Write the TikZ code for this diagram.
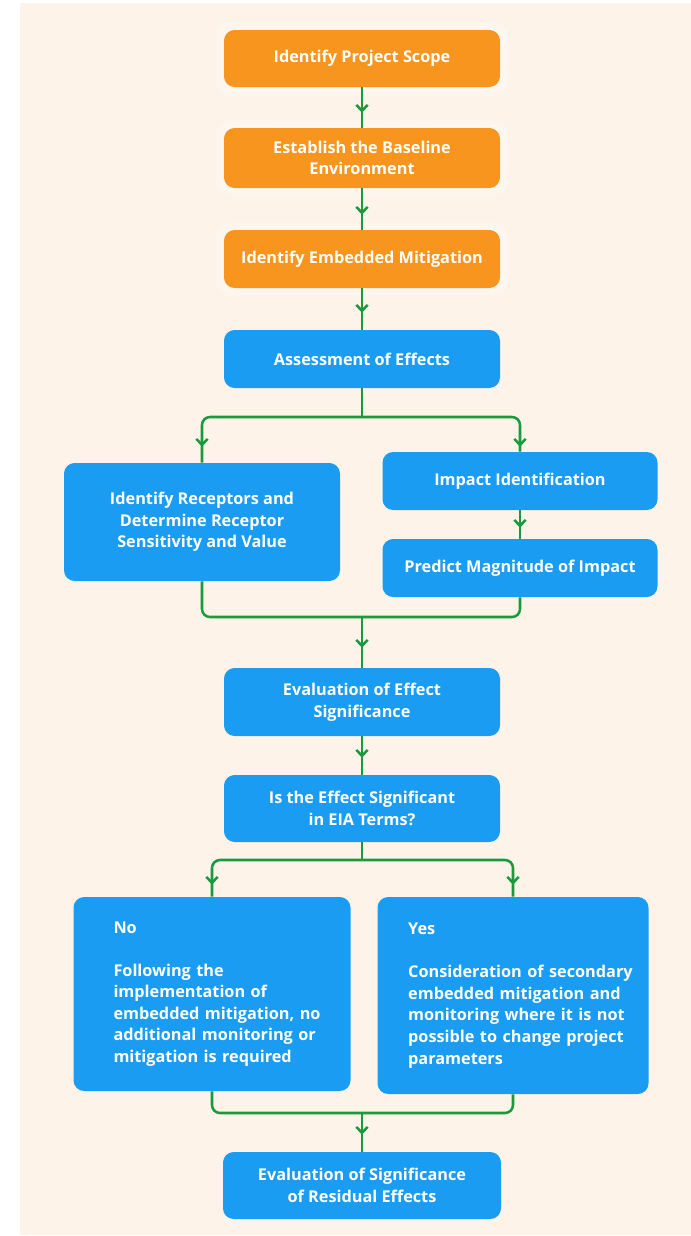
\documentclass[tikz,border=0pt]{standalone}
\usepackage{fontspec}
\setmainfont{Open Sans}
\usetikzlibrary{arrows.meta,decorations.markings,calc}
\definecolor{cream}{HTML}{FDF3E8}
\definecolor{orng}{HTML}{F7951F}
\definecolor{blu}{HTML}{1A9CF2}
\definecolor{grn}{HTML}{1A9A3E}
\begin{document}
\begin{tikzpicture}[x=0.75pt,y=-0.75pt,
  box/.style={rounded corners=8pt, text=white, font=\bfseries\fontsize{12.2}{16.2}\selectfont, align=center, inner sep=0pt, minimum width=207pt},
  obox/.style={box, fill=orng},
  bbox/.style={box, fill=blu},
  halo/.style={fill=white, opacity=0.3, rounded corners=10pt},
  flow/.style={draw=grn, line width=1.9pt, rounded corners=6pt},
  tipat/.style={postaction={decorate}, decoration={markings, mark=at position -#1 with {\arrow[line width=1.9pt]{Straight Barb[length=4.5pt,width=8.5pt]}}}},
  tipat/.default=11.25pt
]
\useasboundingbox (0,0) rectangle (691,1236);
\fill[white] (0,0) rectangle (691,1236);
\fill[cream] (20,3) rectangle (691,1235);
\fill[halo] (216,22) rectangle (508,95);
\fill[halo] (216,121) rectangle (508,195);
\fill[halo] (216,223) rectangle (508,295);

\node[obox, minimum height=42.75pt] (b1) at (362,58.5) {Identify Project Scope};
\node[obox, minimum height=45pt] (b2) at (362,158) {Establish the Baseline\\Environment};
\node[obox, minimum height=43.5pt] (b3) at (362,259) {Identify Embedded Mitigation};
\node[bbox, minimum height=43.5pt] (b4) at (362,359) {Assessment of Effects};
\node[bbox, minimum height=88.5pt] (rec) at (202,522) {Identify Receptors and\\Determine Receptor\\Sensitivity and Value};
\node[bbox, minimum width=206.25pt, minimum height=43.5pt] (imp) at (520,481) {Impact Identification};
\node[bbox, minimum width=206.25pt, minimum height=43.5pt] (mag) at (520,568) {Predict Magnitude of Impact};
\node[bbox, minimum height=51pt] (eval) at (362,702) {Evaluation of Effect\\Significance};
\node[bbox, minimum height=50.25pt] (q) at (362,808.5) {Is the Effect Significant\\in EIA Terms?};
\node[bbox, minimum width=207.75pt, minimum height=145.5pt, text width=147.75pt, align=left] (no) at (212,994)
  {No\\[16pt]\mbox{Following the}\\\mbox{implementation of}\\\mbox{embedded mitigation, no}\\\mbox{additional monitoring or}\\\mbox{mitigation is required}};
\node[bbox, minimum width=203.25pt, minimum height=147.75pt, text width=157.25pt, align=left] (yes) at (513,995.5)
  {Yes\\[16pt]\mbox{Consideration of secondary}\\\mbox{embedded mitigation and}\\\mbox{monitoring where it is not}\\\mbox{possible to change project}\\\mbox{parameters}};
\node[bbox, minimum width=208.5pt, minimum height=50.25pt] (fin) at (362,1185.5) {Evaluation of Significance\\of Residual Effects};

\coordinate (s1) at (362,417);
\coordinate (m1) at (362,617);
\coordinate (s2) at (362,860);
\coordinate (m2) at (362,1113);

\draw[flow,tipat] (b1) -- (b2);
\draw[flow,tipat] (b2) -- (b3);
\draw[flow,tipat=12.75pt] (b3) -- (b4);
\draw[flow] (b4) -- (s1);
\draw[flow,tipat=12pt] (s1) -| (rec.north);
\draw[flow,tipat=3.75pt] (s1) -| (imp.north);
\draw[flow,tipat=8.25pt] (imp) -- (mag);
\draw[flow] (rec.south) |- (m1) -| (mag.south);
\draw[flow,tipat=15pt] (m1) -- (eval);
\draw[flow,tipat=12.75pt] (eval) -- (q);
\draw[flow] (q) -- (s2);
\draw[flow,tipat=9pt] (s2) -| (no.north);
\draw[flow,tipat=9pt] (s2) -| (yes.north);
\draw[flow] (no.south) |- (m2) -| (yes.south);
\draw[flow,tipat=12.75pt] (m2) -- (fin);
\end{tikzpicture}
\end{document}
